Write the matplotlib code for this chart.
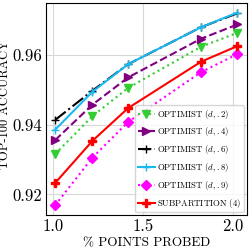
import numpy as np
import matplotlib
matplotlib.use('Agg')
import matplotlib.pyplot as plt

plt.rcParams['font.family'] = 'serif'
plt.rcParams['font.serif'] = ['cmr10', 'DejaVu Serif']
plt.rcParams['mathtext.fontset'] = 'cm'
plt.rcParams['axes.formatter.use_mathtext'] = True

# % points probed
probed = [1.013, 1.22, 1.418, 1.822, 2.024]

# top-100 accuracy per method
opt_2 = [0.9316, 0.9425, 0.9506, 0.9624, 0.9664]
opt_4 = [0.9356, 0.9458, 0.9536, 0.9647, 0.9688]
opt_6 = [0.9414, 0.9498, 0.9574, 0.9680, 0.9720]
opt_8 = [0.9386, 0.9495, 0.9574, 0.9680, 0.9722]
opt_9 = [0.9169, 0.9306, 0.9408, 0.9551, 0.9603]
subpart = [0.9233, 0.9354, 0.9448, 0.9581, 0.9626]

labels = [r'OPTIMIST $(d,.2)$', r'OPTIMIST $(d,.4)$', r'OPTIMIST $(d,.6)$',
          r'OPTIMIST $(d,.8)$', r'OPTIMIST $(d,.9)$', r'SUBPARTITION $(4)$']

fig = plt.figure(figsize=(2.49, 2.49), dpi=100)
ax = fig.add_axes([0.185, 0.137, 0.805, 0.851])

ax.plot(probed, opt_2, color='#33cc33', ls=':', lw=1.5, marker='v', ms=6, label=labels[0])
ax.plot(probed, opt_4, color='purple', ls='--', lw=1.5, marker='>', ms=6, label=labels[1])
ax.plot(probed, opt_6, color='black', ls='-.', lw=1.5, marker='+', ms=6, label=labels[2])
ax.plot(probed, opt_8, color='#1ab8f0', ls='-', lw=1.5, marker='+', ms=6, label=labels[3])
ax.plot(probed, opt_9, color='magenta', ls=':', lw=1.5, marker='D', ms=5.5, label=labels[4])
ax.plot(probed, subpart, color='red', ls='-', lw=1.5, marker='P', ms=6, label=labels[5])

ax.set_xticks([1.0, 1.5, 2.0])
ax.set_xticklabels(['1.0', '1.5', '2.0'])
ax.set_yticks([0.92, 0.94, 0.96])
ax.set_yticklabels(['0.92', '0.94', '0.96'])
ax.tick_params(labelsize=12, length=0, pad=3)
ax.grid(True, color='#d8d8d8', lw=0.8)

ax.set_xlabel(r'% POINTS PROBED', fontsize=9.5, labelpad=2)
ax.set_ylabel(r'TOP-100 ACCURACY', fontsize=9)
ax.yaxis.set_label_coords(-0.175, 0.52)

ax.legend(loc='lower right', fontsize=6.3, handlelength=1.9, borderpad=0.3,
          labelspacing=0.55, handletextpad=0.3, borderaxespad=0.3)

plt.savefig('out.png', dpi=100)
